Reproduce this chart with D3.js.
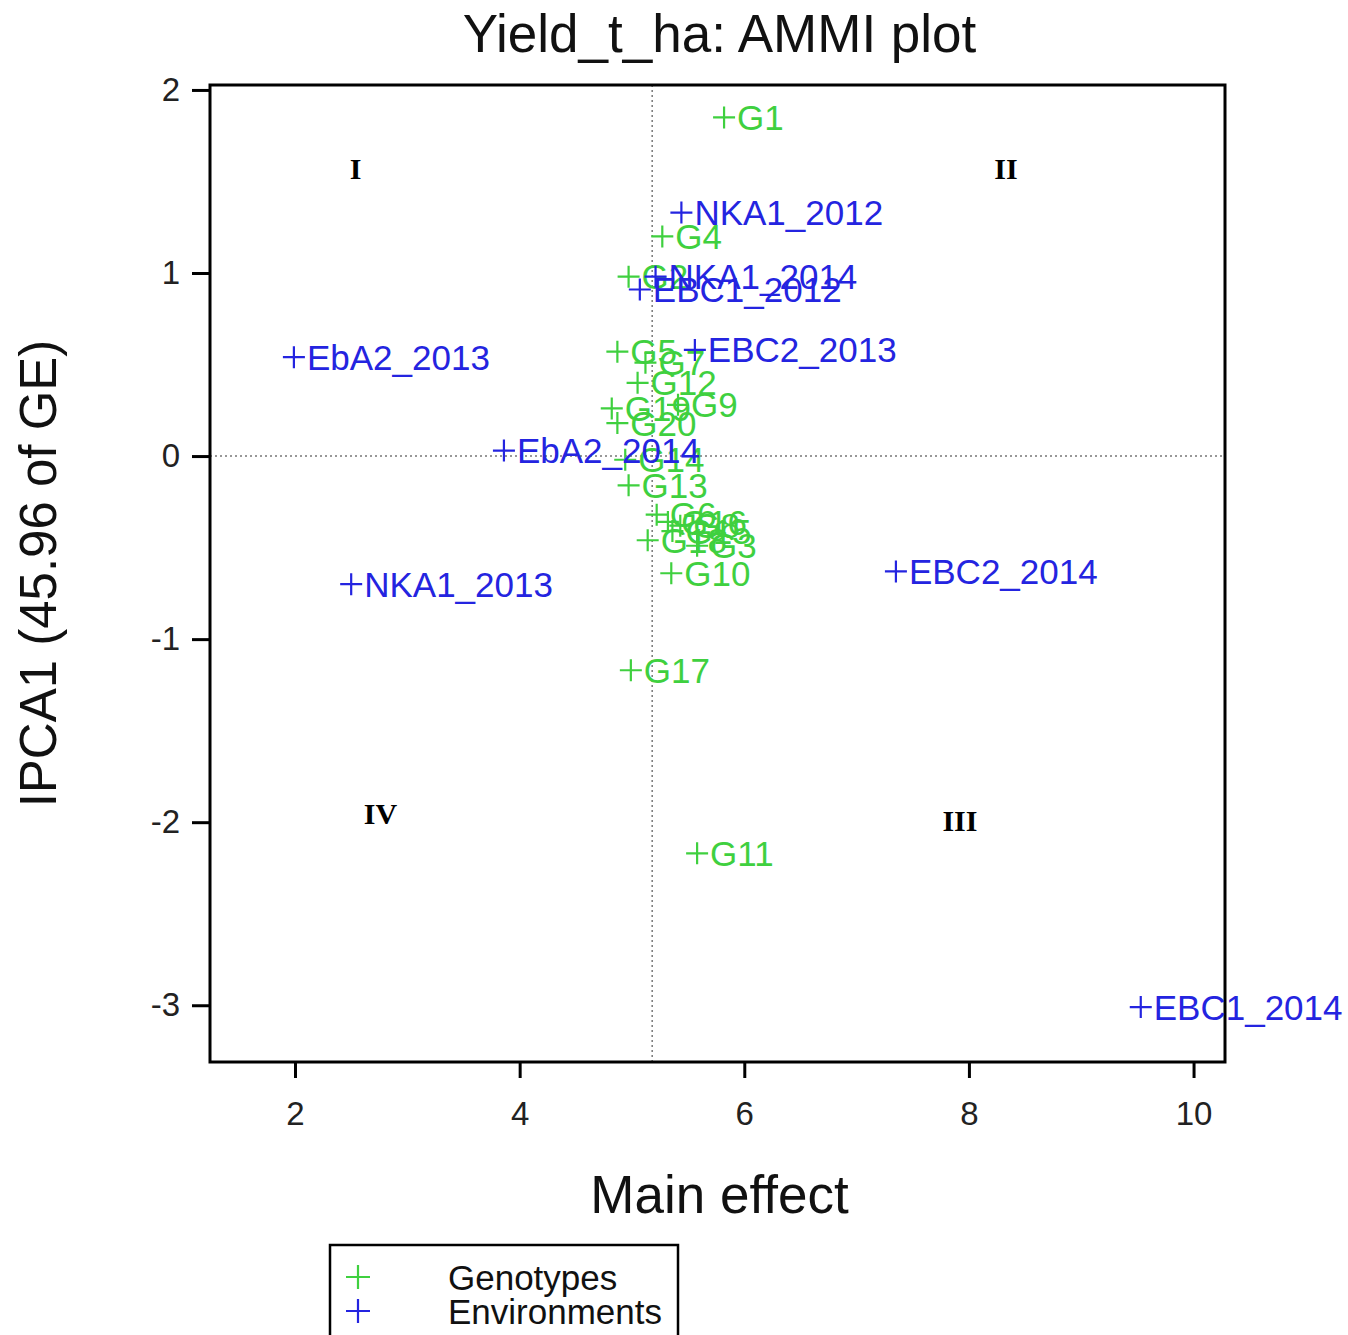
<!DOCTYPE html>
<html>
<head>
<meta charset="utf-8">
<style>
  body { margin: 0; padding: 0; background: white; overflow: hidden; }
  text { font-family: "Liberation Sans", Arial, sans-serif; }
  .axis path { display: none; }
  .axis line { stroke: black; stroke-width: 3px; }
  .axis text { font-size: 33px; fill: #222; font-family: "Liberation Sans", Arial, sans-serif; }
  .quad { font-family: "Liberation Serif", "Times New Roman", serif; font-weight: bold; font-size: 30px; }
</style>
</head>
<body>
<script src="https://cdnjs.cloudflare.com/ajax/libs/d3/7.8.5/d3.min.js"></script>
<script>
// genotype scores: main effect (x) vs IPCA1 (y)
var genoNames = ["G1","G2","G3","G4","G5","G6","G7","G8","G9","G10",
                 "G11","G12","G13","G14","G15","G16","G17","G18","G19","G20"];
var genoX = [5.82, 4.97, 5.58, 5.27, 4.87, 5.22, 5.12, 5.43, 5.41, 5.35,
             5.58, 5.05, 4.97, 4.94, 5.36, 5.32, 4.99, 5.14, 4.82, 4.87];
var genoY = [1.85, 0.98, -0.49, 1.20, 0.57, -0.32, 0.51, -0.38, 0.28, -0.64,
             -2.17, 0.40, -0.16, -0.02, -0.41, -0.36, -1.17, -0.46, 0.26, 0.18];

var envNames = ["NKA1_2012","NKA1_2014","EBC1_2012","EbA2_2013","EBC2_2013",
                "EbA2_2014","NKA1_2013","EBC2_2014","EBC1_2014"];
var envX = [5.44, 5.21, 5.07, 1.99, 5.56, 3.86, 2.50, 7.35, 9.53];
var envY = [1.33, 0.98, 0.91, 0.54, 0.58, 0.03, -0.70, -0.63, -3.01];

var xTicks = [2, 4, 6, 8, 10];
var yTicks = [2, 1, 0, -1, -2, -3];
var meanX = 5.18;

var quadLabels = ["I", "II", "III", "IV"];
var quadX = [2.54, 8.33, 7.92, 2.76];
var quadY = [1.57, 1.57, -1.99, -1.95];

var legendNames = ["Genotypes", "Environments"];
var green = "#3fd03f", blue = "#2424e0";

var W = 1348, H = 1335;
var margin = { top: 85, right: 123, bottom: 273, left: 210 };
var width = W - margin.left - margin.right,
    height = H - margin.top - margin.bottom;

var svg = d3.select("body").append("svg")
    .attr("width", W).attr("height", H);
var g = svg.append("g")
    .attr("transform", "translate(" + margin.left + "," + margin.top + ")");

var x = d3.scaleLinear().domain([1.243, 10.28]).range([0, width]);
var y = d3.scaleLinear().domain([-3.31, 2.027]).range([height, 0]);

var fmt = function(d) { return String(d); };

// axes
g.append("g").attr("class", "axis")
    .attr("transform", "translate(0," + height + ")")
    .call(d3.axisBottom(x).tickValues(xTicks).tickFormat(fmt).tickSize(16).tickPadding(24));
g.append("g").attr("class", "axis")
    .call(d3.axisLeft(y).tickValues(yTicks).tickFormat(fmt).tickSize(18).tickPadding(12));

// reference lines
g.append("line")
    .attr("x1", x(meanX)).attr("x2", x(meanX))
    .attr("y1", 0).attr("y2", height)
    .attr("stroke", "#777").attr("stroke-width", 1.5)
    .attr("stroke-dasharray", "2,3");
g.append("line")
    .attr("x1", 0).attr("x2", width)
    .attr("y1", y(0)).attr("y2", y(0))
    .attr("stroke", "#777").attr("stroke-width", 1.5)
    .attr("stroke-dasharray", "2,3");

// frame
g.append("rect")
    .attr("width", width).attr("height", height)
    .attr("fill", "none").attr("stroke", "black").attr("stroke-width", 3);

// quadrant labels
g.selectAll(".quad")
    .data(quadLabels)
    .enter().append("text")
    .attr("class", "quad")
    .attr("x", function(d, i) { return x(quadX[i]); })
    .attr("y", function(d, i) { return y(quadY[i]); })
    .attr("dy", "0.35em")
    .attr("text-anchor", "middle")
    .text(function(d) { return d; });

function plus(sel, color) {
    sel.append("path")
        .attr("d", "M-11,0H11M0,-11V11")
        .attr("stroke", color).attr("stroke-width", 2.2)
        .attr("fill", "none");
}

function drawPoints(names, xs, ys, color) {
    var pts = g.append("g").selectAll("g")
        .data(names)
        .enter().append("g")
        .attr("transform", function(d, i) {
            return "translate(" + x(xs[i]) + "," + y(ys[i]) + ")";
        });
    plus(pts, color);
    pts.append("text")
        .attr("x", 13)
        .attr("dy", "0.36em")
        .attr("fill", color)
        .style("font-size", "35px")
        .text(function(d) { return d; });
}

drawPoints(genoNames, genoX, genoY, green);
drawPoints(envNames, envX, envY, blue);

// titles
svg.append("text")
    .attr("x", margin.left + width / 2 + 2).attr("y", 52)
    .attr("text-anchor", "middle")
    .style("font-size", "53px").attr("fill", "#111")
    .text("Yield_t_ha: AMMI plot");
svg.append("text")
    .attr("x", margin.left + width / 2 + 2).attr("y", 1213)
    .attr("text-anchor", "middle")
    .style("font-size", "53px").attr("fill", "#111")
    .text("Main effect");
svg.append("text")
    .attr("transform", "translate(56," + (margin.top + height / 2) + ") rotate(-90)")
    .attr("text-anchor", "middle")
    .style("font-size", "51px").attr("fill", "#111")
    .text("IPCA1 (45.96 of GE)");

// legend
var leg = svg.append("g").attr("transform", "translate(330,1245)");
leg.append("rect")
    .attr("width", 348).attr("height", 110)
    .attr("fill", "white").attr("stroke", "black").attr("stroke-width", 2.5);
var items = leg.selectAll(".item")
    .data(legendNames)
    .enter().append("g")
    .attr("transform", function(d, i) { return "translate(28," + (32 + i * 34) + ")"; });
items.each(function(d, i) {
    d3.select(this).append("path")
        .attr("d", "M-12,0H12M0,-12V12")
        .attr("stroke", i === 0 ? green : blue).attr("stroke-width", 2.2);
});
items.append("text")
    .attr("x", 90).attr("dy", "0.36em")
    .style("font-size", "35px").attr("fill", "#111")
    .text(function(d) { return d; });
</script>
</body>
</html>
